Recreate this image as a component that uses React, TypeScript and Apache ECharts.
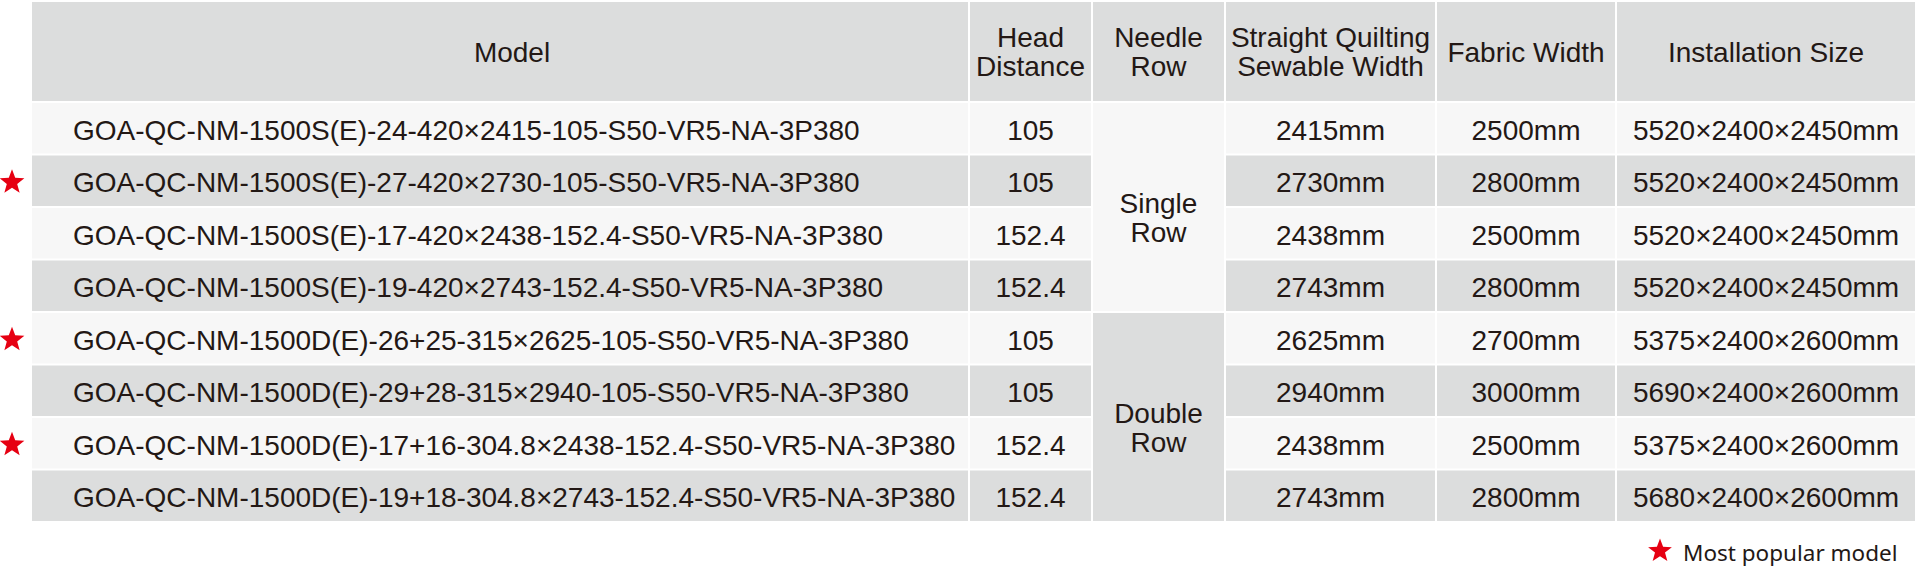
import React, { useEffect, useRef } from "react";
import * as echarts from "echarts";

// ---- data ----
const HEADERS = [
  "Model",
  "Head\nDistance",
  "Needle\nRow",
  "Straight Quilting\nSewable Width",
  "Fabric Width",
  "Installation Size",
];
const MODELS = [
  "GOA-QC-NM-1500S(E)-24-420×2415-105-S50-VR5-NA-3P380",
  "GOA-QC-NM-1500S(E)-27-420×2730-105-S50-VR5-NA-3P380",
  "GOA-QC-NM-1500S(E)-17-420×2438-152.4-S50-VR5-NA-3P380",
  "GOA-QC-NM-1500S(E)-19-420×2743-152.4-S50-VR5-NA-3P380",
  "GOA-QC-NM-1500D(E)-26+25-315×2625-105-S50-VR5-NA-3P380",
  "GOA-QC-NM-1500D(E)-29+28-315×2940-105-S50-VR5-NA-3P380",
  "GOA-QC-NM-1500D(E)-17+16-304.8×2438-152.4-S50-VR5-NA-3P380",
  "GOA-QC-NM-1500D(E)-19+18-304.8×2743-152.4-S50-VR5-NA-3P380",
];
const HEAD_DISTANCE = ["105", "105", "152.4", "152.4", "105", "105", "152.4", "152.4"];
const NEEDLE_ROW_GROUPS = ["Single\nRow", "Double\nRow"];
const NEEDLE_ROW_SPANS = [4, 4];
const SEWABLE_WIDTH = ["2415mm", "2730mm", "2438mm", "2743mm", "2625mm", "2940mm", "2438mm", "2743mm"];
const FABRIC_WIDTH = ["2500mm", "2800mm", "2500mm", "2800mm", "2700mm", "3000mm", "2500mm", "2800mm"];
const INSTALL_SIZE = [
  "5520×2400×2450mm",
  "5520×2400×2450mm",
  "5520×2400×2450mm",
  "5520×2400×2450mm",
  "5375×2400×2600mm",
  "5690×2400×2600mm",
  "5375×2400×2600mm",
  "5680×2400×2600mm",
];
const POPULAR = [false, true, false, false, true, false, true, false];
const LEGEND_TEXT = "Most popular model";

// ---- layout / style ----
const COL_EDGES = [31, 969, 1092, 1225, 1436, 1616, 1916];
const HEADER_TOP = 1;
const HEADER_BOTTOM = 102;
const ROW_H = 52.5;
const GAP = 1;
const FONT = "'Liberation Sans', Arial, Helvetica, sans-serif";
const FS = 28;
const TEXT_COLOR = "#231815";
const GREY = "#dcdddd";
const LIGHT = "#f7f7f7";
const RED = "#e60012";

function starPoints(cx: number, cy: number, R: number) {
  const r = R * 0.42;
  const pts: number[][] = [];
  for (let i = 0; i < 10; i++) {
    const a = ((-90 + i * 36) * Math.PI) / 180;
    const rad = i % 2 === 0 ? R : r;
    pts.push([cx + rad * Math.cos(a), cy + rad * Math.sin(a)]);
  }
  return pts;
}

function cellRect(x0: number, x1: number, y0: number, y1: number, fill: string) {
  return {
    type: "rect",
    shape: { x: x0 + GAP, y: y0 + GAP, width: x1 - x0 - 2 * GAP, height: y1 - y0 - 2 * GAP },
    style: { fill },
    silent: true,
  };
}

function cellText(x: number, y: number, text: string, align = "center", lineHeight = 29) {
  return {
    type: "text",
    x,
    y,
    style: {
      text,
      fill: TEXT_COLOR,
      font: `${FS}px ${FONT}`,
      fontSize: FS,
      fontFamily: FONT,
      align,
      verticalAlign: "middle",
      lineHeight,
    },
    silent: true,
  };
}

function buildGraphics() {
  const els: any[] = [];
  const rowTop = (i: number) => HEADER_BOTTOM + i * ROW_H;
  const colMid = (c: number) => (COL_EDGES[c] + COL_EDGES[c + 1]) / 2;

  // header
  HEADERS.forEach((h, c) => {
    els.push(cellRect(COL_EDGES[c], COL_EDGES[c + 1], HEADER_TOP, HEADER_BOTTOM, GREY));
  });
  HEADERS.forEach((h, c) => {
    const x = c === 0 ? 512 : colMid(c);
    els.push(cellText(x, 52, h));
  });

  // body rows
  const simpleCols: { col: number; values: string[] }[] = [
    { col: 1, values: HEAD_DISTANCE },
    { col: 3, values: SEWABLE_WIDTH },
    { col: 4, values: FABRIC_WIDTH },
    { col: 5, values: INSTALL_SIZE },
  ];
  MODELS.forEach((m, i) => {
    const y0 = rowTop(i);
    const y1 = rowTop(i + 1);
    const fill = i % 2 === 0 ? LIGHT : GREY;
    const cy = (y0 + y1) / 2 + 2;
    els.push(cellRect(COL_EDGES[0], COL_EDGES[1], y0, y1, fill));
    els.push(cellText(73, cy, m, "left"));
    simpleCols.forEach(({ col, values }) => {
      els.push(cellRect(COL_EDGES[col], COL_EDGES[col + 1], y0, y1, fill));
      els.push(cellText(colMid(col), cy, values[i]));
    });
    if (POPULAR[i]) {
      els.push({
        type: "polygon",
        shape: { points: starPoints(12, (y0 + y1) / 2 + 1.5, 13) },
        style: { fill: RED },
        silent: true,
      });
    }
  });

  // merged needle row cells
  let start = 0;
  NEEDLE_ROW_GROUPS.forEach((g, k) => {
    const span = NEEDLE_ROW_SPANS[k];
    const y0 = rowTop(start);
    const y1 = rowTop(start + span);
    els.push(cellRect(COL_EDGES[2], COL_EDGES[3], y0, y1, k % 2 === 0 ? LIGHT : GREY));
    els.push(cellText(colMid(2), (y0 + y1) / 2 + 11, g));
    start += span;
  });

  // legend
  els.push({
    type: "polygon",
    shape: { points: starPoints(1660, 551, 12.5) },
    style: { fill: RED },
    silent: true,
  });
  els.push({
    type: "text",
    x: 1683,
    y: 552,
    style: {
      text: LEGEND_TEXT,
      fill: TEXT_COLOR,
      font: "22.5px 'Noto Sans', 'Open Sans', sans-serif",
      fontSize: 22.5,
      fontFamily: "'Noto Sans', 'Open Sans', sans-serif",
      align: "left",
      verticalAlign: "middle",
    },
    silent: true,
  });
  return els;
}

export default function App() {
  const ref = useRef<HTMLDivElement>(null);
  useEffect(() => {
    if (!ref.current) return;
    const chart = echarts.init(ref.current, undefined, { renderer: "svg" });
    chart.setOption({
      animation: false,
      backgroundColor: "#ffffff",
      graphic: { elements: buildGraphics() },
    });
    return () => chart.dispose();
  }, []);
  return (
    <div
      ref={ref}
      style={{ position: "absolute", left: 0, top: 0, width: 1916, height: 576, background: "#fff" }}
    />
  );
}
